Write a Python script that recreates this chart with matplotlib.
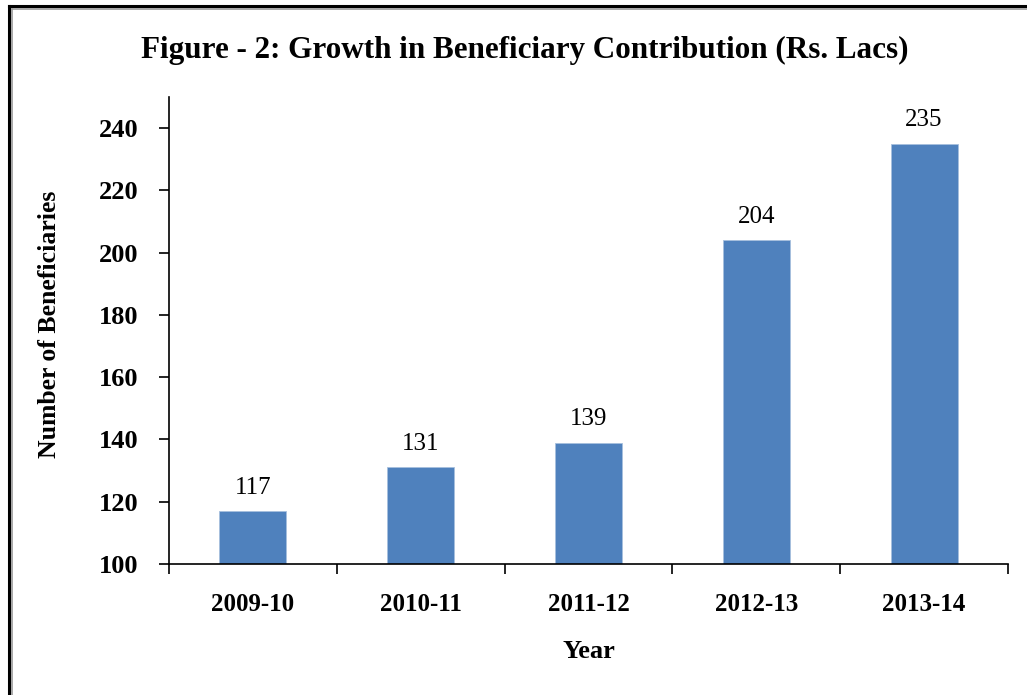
import matplotlib.pyplot as plt
from matplotlib.lines import Line2D

years = ['2009-10', '2010-11', '2011-12', '2012-13', '2013-14']
contribution = [117, 131, 139, 204, 235]
y_ticks = [100, 120, 140, 160, 180, 200, 220, 240]

plt.rcParams['font.family'] = ['Liberation Serif', 'DejaVu Serif']

fig = plt.figure(figsize=(10.27, 6.95), dpi=100)
ax = fig.add_axes([0.1646, 0.1885, 0.8169, 0.6719])

x = range(len(years))
ax.bar(x, contribution, width=0.4, color='#4F81BD', edgecolor='#A7C0DE', linewidth=0.6, zorder=2)

# value labels above bars
for xi, v in zip(x, contribution):
    ax.annotate(str(v), (xi, v), xytext=(0, 9), textcoords='offset points',
                ha='center', va='bottom', fontsize=18)

ax.set_xlim(-0.5, len(years) - 0.5)
ax.set_ylim(100, 250)
ax.set_yticks(y_ticks)
ax.set_yticklabels([str(t) for t in y_ticks], fontsize=19, fontweight='bold')
ax.set_xticks(list(x))
ax.set_xticklabels(years, fontsize=18, fontweight='bold')
ax.set_xticks([i - 0.5 for i in range(len(years) + 1)], minor=True)
ax.tick_params(axis='x', which='major', length=0, pad=21)
ax.tick_params(axis='x', which='minor', length=7, width=1.2, direction='out')
ax.tick_params(axis='y', length=7, width=1.2, direction='out', pad=15)

for side in ['top', 'right']:
    ax.spines[side].set_visible(False)
for side in ['left', 'bottom']:
    ax.spines[side].set_linewidth(1.2)

ax.set_xlabel('Year', fontsize=19, fontweight='bold', labelpad=17)
ax.set_ylabel('Number of Beneficiaries', fontsize=18.5, fontweight='bold', labelpad=27)
ax.yaxis.label.set_y(0.514)

fig.text(0.511, 0.927, 'Figure - 2: Growth in Beneficiary Contribution (Rs. Lacs)',
         ha='center', va='center', fontsize=22.4, fontweight='bold')

# page frame (only left and top edges show in the crop)
fig.add_artist(Line2D([9 / 1027, 9 / 1027], [0, 1 - 6 / 695], color='black', linewidth=2.2, transform=fig.transFigure))
fig.add_artist(Line2D([9 / 1027, 1], [1 - 6 / 695, 1 - 6 / 695], color='black', linewidth=2.2, transform=fig.transFigure))
fig.add_artist(Line2D([12 / 1027, 12 / 1027], [0, 1 - 9 / 695], color='#999999', linewidth=1.2, transform=fig.transFigure))
fig.add_artist(Line2D([12 / 1027, 1], [1 - 9 / 695, 1 - 9 / 695], color='#999999', linewidth=1.2, transform=fig.transFigure))

fig.savefig('out.png', dpi=100)
